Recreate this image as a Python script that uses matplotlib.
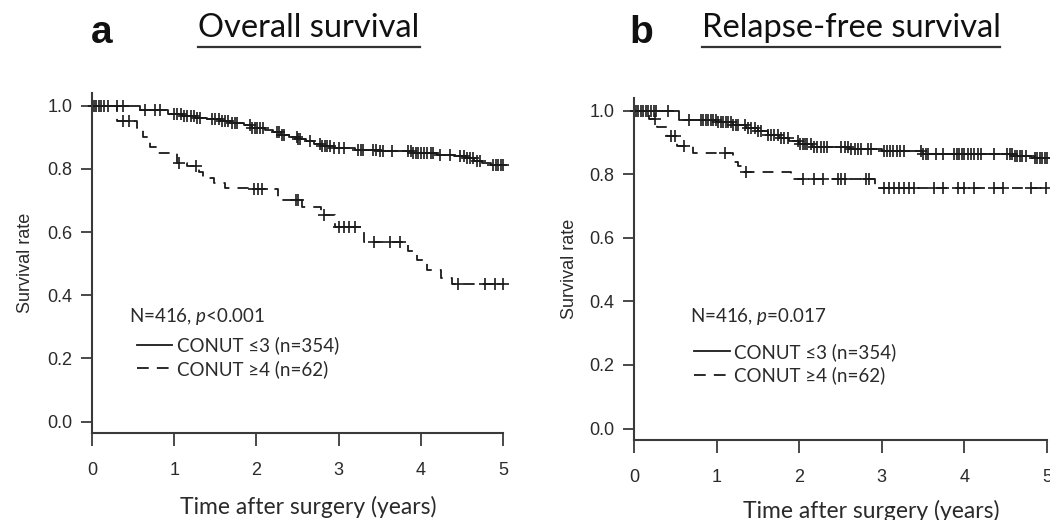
import numpy as np
import matplotlib
matplotlib.use("Agg")
import matplotlib.pyplot as plt
from matplotlib.lines import Line2D

# ---------------- data ----------------
# Overall survival, CONUT <=3
os_low_t = [0, 0.58, 0.92, 1.10, 1.25, 1.40, 1.55, 1.70, 1.85, 1.95, 2.10, 2.20, 2.30, 2.40, 2.50,
            2.60, 2.70, 2.80, 2.95, 3.20, 3.50, 3.90, 4.20, 4.40, 4.55, 4.65, 4.75, 4.85]
os_low_s = [1.0, 0.985, 0.972, 0.968, 0.962, 0.958, 0.952, 0.945, 0.938, 0.930, 0.922, 0.915, 0.908,
            0.900, 0.895, 0.888, 0.880, 0.873, 0.866, 0.860, 0.855, 0.850, 0.845, 0.840, 0.833, 0.826,
            0.818, 0.812]
os_low_cens = [0.02, 0.05, 0.08, 0.11, 0.14, 0.2, 0.3, 0.38, 0.65, 0.77, 0.83, 1.0, 1.04, 1.08, 1.12,
               1.16, 1.2, 1.24, 1.28, 1.31, 1.46, 1.5, 1.54, 1.58, 1.62, 1.66, 1.7, 1.74, 1.77, 1.92,
               1.95, 1.98, 2.01, 2.04, 2.08, 2.25, 2.28, 2.31, 2.34, 2.49, 2.51, 2.53, 2.65, 2.77, 2.8,
               2.83, 2.86, 2.9, 2.95, 3.0, 3.06, 3.24, 3.27, 3.3, 3.42, 3.46, 3.5, 3.54, 3.65, 3.85,
               3.88, 3.91, 3.94, 3.97, 4.0, 4.04, 4.08, 4.12, 4.15, 4.23, 4.36, 4.48, 4.52, 4.56, 4.6,
               4.64, 4.68, 4.72, 4.88, 4.91, 4.94, 4.97, 5.0]

# Overall survival, CONUT >=4
os_high_t = [0, 0.30, 0.55, 0.62, 0.70, 0.80, 1.03, 1.15, 1.30, 1.35, 1.48, 1.62, 1.90, 2.26, 2.55,
             2.78, 2.96, 3.31, 3.85, 3.95, 4.08, 4.25, 4.38]
os_high_s = [1.0, 0.95, 0.93, 0.90, 0.87, 0.85, 0.82, 0.81, 0.79, 0.77, 0.755, 0.74, 0.735, 0.70,
             0.68, 0.655, 0.615, 0.567, 0.54, 0.51, 0.48, 0.455, 0.435]
os_high_cens = [0.38, 0.45, 1.06, 1.27, 1.97, 2.02, 2.07, 2.48, 2.51, 2.82, 3.01, 3.07, 3.13, 3.2,
                3.43, 3.63, 3.75, 4.45, 4.78, 4.9, 5.0]

# Relapse-free survival, CONUT <=3
rfs_low_t = [0, 0.55, 1.00, 1.20, 1.35, 1.50, 1.62, 1.75, 1.88, 2.00, 2.15, 2.60, 3.00, 3.50, 4.60, 4.85]
rfs_low_s = [1.0, 0.972, 0.965, 0.955, 0.945, 0.935, 0.925, 0.915, 0.905, 0.895, 0.885, 0.878,
             0.872, 0.865, 0.858, 0.850]
rfs_low_cens = [0.02, 0.05, 0.08, 0.11, 0.14, 0.17, 0.2, 0.24, 0.27, 0.41, 0.67, 0.81, 0.84, 0.87,
                0.9, 0.93, 0.96, 0.99, 1.02, 1.05, 1.08, 1.11, 1.14, 1.17, 1.2, 1.23, 1.26, 1.34,
                1.38, 1.42, 1.46, 1.5, 1.54, 1.62, 1.66, 1.7, 1.74, 1.78, 1.82, 1.86, 1.98, 2.01,
                2.04, 2.07, 2.1, 2.14, 2.18, 2.22, 2.26, 2.3, 2.34, 2.51, 2.55, 2.59, 2.63, 2.67,
                2.71, 2.75, 2.83, 2.87, 3.03, 3.06, 3.1, 3.14, 3.18, 3.22, 3.27, 3.47, 3.5, 3.53,
                3.56, 3.66, 3.74, 3.88, 3.91, 3.94, 3.97, 4.0, 4.04, 4.08, 4.12, 4.16, 4.2, 4.36,
                4.52, 4.55, 4.58, 4.61, 4.64, 4.67, 4.7, 4.74, 4.85, 4.88, 4.91, 4.94, 4.97, 5.0]

# Relapse-free survival, CONUT >=4
rfs_high_t = [0, 0.18, 0.28, 0.40, 0.52, 0.72, 1.20, 1.26, 1.33, 1.90, 2.92]
rfs_high_s = [1.0, 0.975, 0.95, 0.92, 0.89, 0.866, 0.84, 0.825, 0.806, 0.784, 0.758]
rfs_high_cens = [0.26, 0.45, 0.5, 0.6, 1.1, 1.36, 2.05, 2.18, 2.29, 2.47, 2.51, 2.55, 2.81, 2.84,
                 3.03, 3.09, 3.15, 3.21, 3.27, 3.33, 3.39, 3.63, 3.74, 3.92, 4.0, 4.12, 4.36, 4.47,
                 4.81, 4.99]

x_ticks = [0, 1, 2, 3, 4, 5]
y_ticks = [0.0, 0.2, 0.4, 0.6, 0.8, 1.0]
y_ticklabels = ["0.0", "0.2", "0.4", "0.6", "0.8", "1.0"]
panel_letters = ["a", "b"]
panel_titles = ["Overall survival", "Relapse-free survival"]
stats_text = [r"N=416, $\mathit{p}$<0.001", r"N=416, $\mathit{p}$=0.017"]
legend_labels = ["CONUT \u22643 (n=354)", "CONUT \u22654 (n=62)"]
x_label = "Time after surgery (years)"
y_label = "Survival rate"
t_max = 5.0

# ---------------- style ----------------
INK = "#1a1a1a"
SPINE = "#3a3a3a"
TXT = "#2a2a2a"
TICKFONT = ["Liberation Sans", "DejaVu Sans"]
TEXTFONT = ["Lato", "DejaVu Sans"]
plt.rcParams["mathtext.fontset"] = "custom"
plt.rcParams["mathtext.it"] = "Lato:italic"
plt.rcParams["mathtext.rm"] = "Lato"

W, H = 1050, 520
fig = plt.figure(figsize=(10.5, 5.2), dpi=100)
ax_a = fig.add_axes([92 / W, (H - 433) / H, 411 / W, 340 / H])
ax_b = fig.add_axes([634 / W, (H - 440) / H, 413 / W, 342 / H])


def km(ax, t, s, cens, dashed):
    t = np.asarray(t, float)
    s = np.asarray(s, float)
    tt = np.append(t, t_max)
    ss = np.append(s, s[-1])
    line, = ax.step(tt, ss, where="post", color=INK, lw=1.3)
    if dashed:
        line.set_dashes((6, 4.5))
    c = np.asarray(cens, float)
    cy = s[np.searchsorted(t, c, side="right") - 1]
    ax.plot(c, cy, ls="none", marker="+", ms=9, mew=1.2, color=INK, clip_on=False)


panels = [
    (ax_a, (os_low_t, os_low_s, os_low_cens), (os_high_t, os_high_s, os_high_cens)),
    (ax_b, (rfs_low_t, rfs_low_s, rfs_low_cens), (rfs_high_t, rfs_high_s, rfs_high_cens)),
]
stats_pos = [(0.09, 0.343), (0.135, 0.36)]
legend_pos = [(0.109, 0.284), (0.145, 0.284)]
xlabel_x = [0.526, 0.574]
xlabel_y = [-0.185, -0.175]

for i, (ax, low, high) in enumerate(panels):
    km(ax, *low, dashed=False)
    km(ax, *high, dashed=True)
    ax.set_xlim(0, 5)
    ax.set_ylim(-0.036, 1.04)
    for sp in ["top", "right"]:
        ax.spines[sp].set_visible(False)
    for sp in ["left", "bottom"]:
        ax.spines[sp].set_color(SPINE)
        ax.spines[sp].set_linewidth(1.5)
    ax.set_xticks(x_ticks)
    ax.set_xticklabels([str(v) for v in x_ticks], fontfamily=TICKFONT, fontsize=13, color=TXT)
    ax.set_yticks(y_ticks)
    ax.set_yticklabels(y_ticklabels, fontfamily=TICKFONT, fontsize=13, color=TXT)
    ax.tick_params(axis="x", direction="out", length=9, width=1.3, color=SPINE, pad=12)
    ax.tick_params(axis="y", direction="out", length=8, width=1.3, color=SPINE, pad=6)
    ax.set_xlabel(x_label, fontfamily=TEXTFONT, fontsize=16.5, color=TXT, labelpad=11)
    ax.xaxis.set_label_coords(xlabel_x[i], xlabel_y[i])
    ax.set_ylabel(y_label, fontfamily=TICKFONT, fontsize=13, color=TXT, labelpad=10 if i == 0 else 8)

    ax.text(stats_pos[i][0], stats_pos[i][1], stats_text[i],
            transform=ax.transAxes, fontfamily=TEXTFONT, fontsize=13.5, color=TXT,
            va="center", ha="left")
    handles = [Line2D([], [], color=INK, lw=1.3),
               Line2D([], [], color=INK, lw=1.3, dashes=(6.5, 4.5))]
    ax.legend(handles, legend_labels, loc="upper left", bbox_to_anchor=legend_pos[i],
              frameon=False, prop={"family": TEXTFONT, "size": 13.5},
              handlelength=1.9, handletextpad=0.25, labelspacing=0.3,
              borderaxespad=0, borderpad=0, labelcolor=TXT)

# panel letters and titles
letter_x = [102, 641]
title_cx = [309, 851]
title_texts = []
for i in range(2):
    fig.text(letter_x[i] / W, 1 - 43 / H, panel_letters[i], fontfamily=TICKFONT,
             fontweight="bold", fontsize=28, color="#111111", ha="center", va="baseline")
    title_texts.append(fig.text(title_cx[i] / W, 1 - 37 / H, panel_titles[i], fontfamily=TEXTFONT,
                                fontsize=23.5, color="#111111", ha="center", va="baseline"))

fig.canvas.draw()
r = fig.canvas.get_renderer()
for txt in title_texts:
    bb = txt.get_window_extent(r)
    fig.add_artist(Line2D([bb.x0 / W, bb.x1 / W], [(H - 47) / H] * 2,
                          transform=fig.transFigure, color="#333333", lw=1.6))

fig.savefig("out.png", dpi=100)
